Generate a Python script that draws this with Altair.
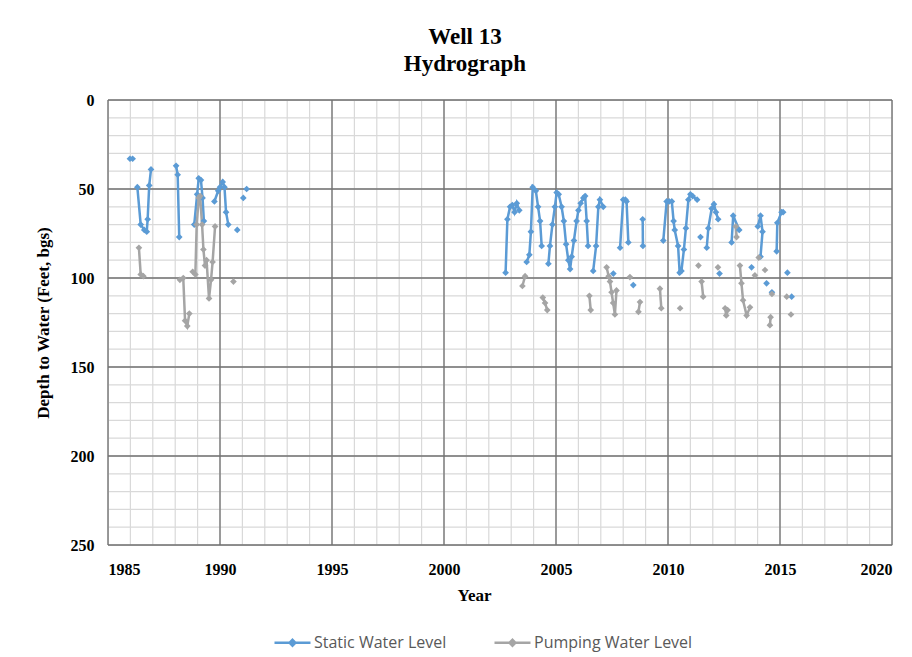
import altair as alt
import pandas as pd

# ---------------- data ----------------
static_year = [
    1985.98, 1986.10,
    1986.31, 1986.46, 1986.62, 1986.73, 1986.77, 1986.84, 1986.92,
    1988.04, 1988.11, 1988.18,
    1988.85, 1988.98, 1989.05, 1989.15, 1989.22, 1989.28,
    1989.75, 1989.92, 1990.00, 1990.12, 1990.20, 1990.27, 1990.37,
    1990.77, 1991.04, 1991.19,
    2002.75, 2002.83, 2002.95, 2003.05, 2003.15, 2003.25, 2003.36,
    2003.69, 2003.81, 2003.88, 2003.96, 2004.10, 2004.20, 2004.29, 2004.36,
    2004.66, 2004.73, 2004.84, 2004.95, 2005.03, 2005.12, 2005.25, 2005.35,
    2005.45, 2005.55, 2005.63, 2005.70, 2005.80, 2005.92, 2006.00, 2006.10,
    2006.22, 2006.30, 2006.37, 2006.43,
    2006.66, 2006.79, 2006.89, 2006.96, 2007.11,
    2007.56,
    2007.86, 2008.00, 2008.10, 2008.15, 2008.23,
    2008.45,
    2008.87, 2008.88,
    2009.79, 2009.94, 2010.05, 2010.17, 2010.25, 2010.30, 2010.45, 2010.52,
    2010.60, 2010.71, 2010.80, 2010.91, 2011.00, 2011.10, 2011.30,
    2011.45,
    2011.73, 2011.80, 2011.95, 2012.05, 2012.14, 2012.24,
    2012.30,
    2012.84, 2012.91, 2013.18,
    2013.73,
    2014.01, 2014.13, 2014.22, 2014.13,
    2014.40,
    2014.64,
    2014.85, 2014.88, 2015.07, 2015.14,
    2015.33,
    2015.52,
]
static_depth = [
    33, 33,
    49, 70, 73, 74, 67, 48, 39,
    37, 42, 77,
    70, 53, 44, 45, 55, 68,
    57, 51, 49, 46, 49, 63, 70,
    73, 55, 50,
    97, 67, 60, 59, 63, 58, 62,
    91, 87, 74, 49, 51, 60, 68, 82,
    92, 82, 70, 60, 52, 53, 60, 68,
    81, 90, 95, 88, 79, 68, 62, 58,
    55, 54, 68, 82,
    96, 82, 60, 56, 60,
    97.5,
    83, 56, 56, 57, 80,
    104,
    67, 82,
    79, 57, 57, 57, 68, 73, 82, 97,
    96, 84, 72, 56, 53, 54, 56,
    77,
    83, 72, 61, 58.5, 63, 67,
    97.5,
    80, 65, 73,
    94,
    71, 65, 74, 88,
    103,
    108,
    85, 69, 63, 63,
    97,
    110.5,
]
static_seg = (
    [1] * 2 + [2] * 7 + [3] * 3 + [4] * 6 + [5] * 7 + [6] + [7] + [8]
    + [9] * 7 + [10] * 8 + [11] * 20 + [12] * 5 + [13] + [14] * 5 + [15]
    + [16] * 2 + [17] * 15 + [18] + [19] * 6 + [20] + [21] * 3 + [22]
    + [23] * 4 + [24] + [25] + [26] * 4 + [27] + [28]
)

pump_year = [
    1986.38, 1986.46, 1986.58,
    1988.21, 1988.36, 1988.44, 1988.54, 1988.63,
    1988.78, 1988.90, 1988.96, 1989.05, 1989.11, 1989.20, 1989.26, 1989.33,
    1989.40, 1989.51, 1989.60, 1989.67, 1989.78,
    1990.60,
    2003.50, 2003.62,
    2004.41, 2004.51, 2004.61,
    2006.49, 2006.55,
    2007.26, 2007.35, 2007.41, 2007.48, 2007.55, 2007.63, 2007.70,
    2008.30,
    2008.68, 2008.75,
    2009.64, 2009.70,
    2010.54,
    2011.36,
    2011.50, 2011.57,
    2012.23,
    2012.55, 2012.60, 2012.66,
    2013.03, 2013.06,
    2013.21, 2013.28, 2013.35, 2013.51, 2013.66,
    2013.88,
    2014.05,
    2014.33,
    2014.55, 2014.58,
    2014.64,
    2015.30,
    2015.49,
]
pump_depth = [
    83, 98, 99,
    101, 100, 124, 127, 120,
    96.5, 98, 70, 55, 54, 70, 84, 93,
    90, 111.5, 101, 91, 71,
    102,
    104.5, 99,
    111, 114, 118,
    110, 118,
    94, 99, 102, 108, 114, 120.5, 107,
    99.5,
    119, 113.5,
    106, 117,
    117,
    93,
    102, 110.5,
    94,
    117, 121, 118,
    71, 77,
    93, 103, 112.5, 121, 116.5,
    98.5,
    88.5,
    95.5,
    126.5, 122,
    109,
    110.5,
    120.5,
]
pump_seg = (
    [1] * 3 + [2] * 5 + [3] * 13 + [4] + [5] * 2 + [6] * 3 + [7] * 2
    + [8] * 7 + [9] + [10] * 2 + [11] * 2 + [12] + [13] + [14] * 2 + [15]
    + [16] * 3 + [17] * 2 + [18] * 5 + [19] + [20] + [21] + [22] * 2 + [23]
    + [24] + [25]
)

series_names = ["Static Water Level", "Pumping Water Level"]
series_colors = ["#5B9BD5", "#A5A5A5"]

minor_years = list(range(1985, 2021))
major_years = list(range(1985, 2021, 5))
minor_depths = list(range(0, 251, 10))
major_depths = list(range(0, 251, 50))

# ---------------- tables ----------------
df = pd.concat([
    pd.DataFrame({"year": static_year, "depth": static_depth,
                  "seg": [f"s{s}" for s in static_seg],
                  "series": series_names[0], "order": range(len(static_year))}),
    pd.DataFrame({"year": pump_year, "depth": pump_depth,
                  "seg": [f"p{s}" for s in pump_seg],
                  "series": series_names[1], "order": range(len(pump_year))}),
], ignore_index=True)

x_scale = alt.Scale(domain=[1985, 2020], nice=False, zero=False)
y_scale = alt.Scale(domain=[0, 250], reverse=True, nice=False, zero=False)

serif = "Liberation Serif"

x_axis = alt.Axis(values=major_years, format="d", grid=False, ticks=False, domain=False,
                  labelFont=serif, labelFontWeight="bold", labelFontSize=16,
                  labelColor="black", labelPadding=16,
                  title="Year", titleFont=serif, titleFontWeight="bold",
                  titleFontSize=17, titleColor="black", titlePadding=10,
                  titleX=366)
y_axis = alt.Axis(values=major_depths, grid=False, ticks=False, domain=False,
                  labelFont=serif, labelFontWeight="bold", labelFontSize=16,
                  labelColor="black", labelPadding=14,
                  title="Depth to Water (Feet, bgs)", titleFont=serif,
                  titleFontWeight="bold", titleFontSize=17, titleColor="black",
                  titlePadding=18)

XT = "Year"
YT = "Depth to Water (Feet, bgs)"

minor_v = alt.Chart(pd.DataFrame({"v": minor_years})).mark_rule(
    color="#d9d9d9", strokeWidth=1.2).encode(x=alt.X("v:Q", scale=x_scale, axis=x_axis, title=XT))
minor_h = alt.Chart(pd.DataFrame({"v": minor_depths})).mark_rule(
    color="#d9d9d9", strokeWidth=1.2).encode(y=alt.Y("v:Q", scale=y_scale, axis=y_axis, title=YT))
major_v = alt.Chart(pd.DataFrame({"v": major_years})).mark_rule(
    color="#707070", strokeWidth=1.3).encode(x=alt.X("v:Q", scale=x_scale, axis=x_axis, title=XT))
major_h = alt.Chart(pd.DataFrame({"v": major_depths})).mark_rule(
    color="#707070", strokeWidth=1.3).encode(y=alt.Y("v:Q", scale=y_scale, axis=y_axis, title=YT))

legend = alt.Legend(
    title=None, orient="none", legendX=165, legendY=523, direction="horizontal",
    symbolType="M-1,0L1,0M0,-0.16L0.16,0L0,0.16L-0.16,0Z",
    symbolSize=1296, symbolStrokeWidth=2.5, labelFont="Open Sans",
    labelFontSize=16, labelColor="#595959", columnPadding=42, labelOffset=2,
    labelLimit=300, padding=0,
)

color = alt.Color("series:N", scale=alt.Scale(domain=series_names, range=series_colors),
                  legend=legend)

lines = alt.Chart(df).mark_line(strokeWidth=2.5).encode(
    x=alt.X("year:Q", scale=x_scale, axis=x_axis, title=XT),
    y=alt.Y("depth:Q", scale=y_scale, axis=y_axis, title=YT),
    color=color,
    detail="seg:N",
    order="order:Q",
)
points = alt.Chart(df).mark_point(shape="diamond", filled=True, size=45, opacity=1).encode(
    x=alt.X("year:Q", scale=x_scale, axis=x_axis, title=XT),
    y=alt.Y("depth:Q", scale=y_scale, axis=y_axis, title=YT),
    color=color,
)

chart = alt.layer(minor_v, minor_h, major_v, major_h, lines, points).properties(
    width=784, height=445,
    title=alt.TitleParams(["Well 13", "Hydrograph"], font=serif, fontWeight="bold",
                          fontSize=23, lineHeight=27, color="black", anchor="middle",
                          frame="group", dx=-35, offset=16),
    autosize=alt.AutoSizeParams(type="none"),
    padding={"left": 100, "top": 92, "right": 10, "bottom": 112},
).configure_view(stroke="black", strokeWidth=1.2).configure(background="white")

chart.save("out.html", embed_options={"renderer": "svg", "actions": False})
